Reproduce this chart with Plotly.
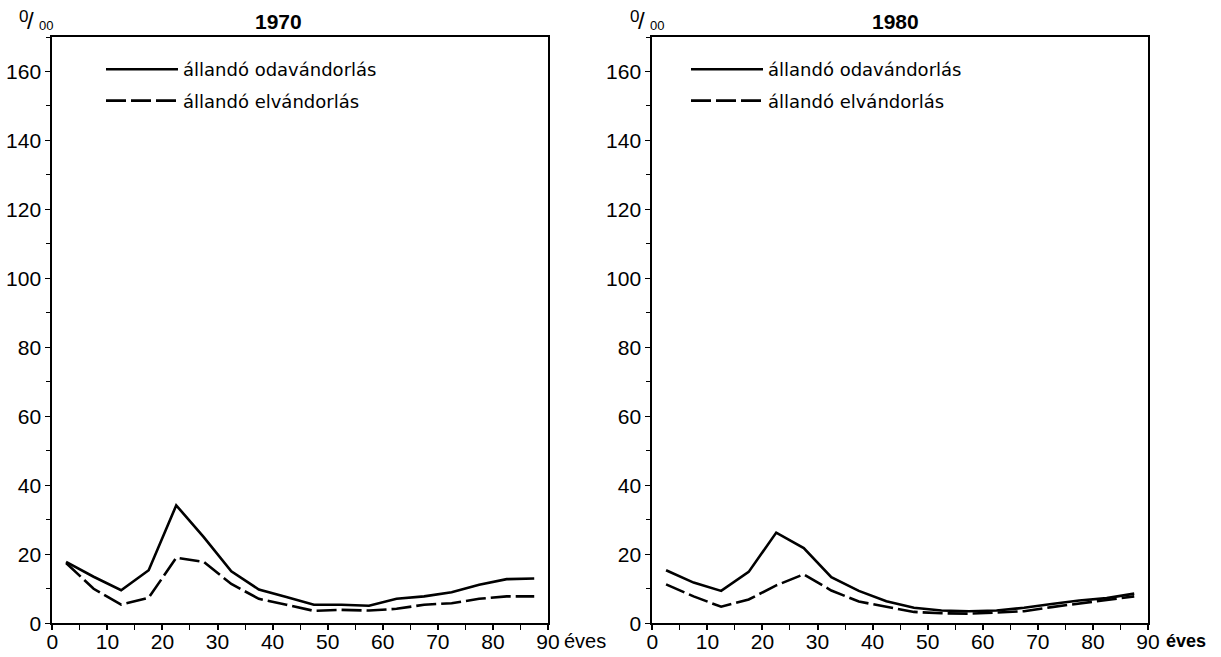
import plotly.graph_objects as go

ages = [2.5, 7.5, 12.5, 17.5, 22.5, 27.5, 32.5, 37.5, 42.5, 47.5, 52.5, 57.5, 62.5, 67.5, 72.5, 77.5, 82.5, 87.5]

oda_1970 = [17.8, 13.5, 9.6, 15.4, 34.2, 25.0, 15.1, 9.8, 7.6, 5.4, 5.4, 5.1, 7.1, 7.8, 9.0, 11.2, 12.8, 13.0]
el_1970 = [17.5, 10.0, 5.4, 7.4, 19.0, 17.8, 11.4, 7.1, 5.4, 3.6, 3.9, 3.7, 4.2, 5.4, 5.8, 7.1, 7.8, 7.8]

oda_1980 = [15.4, 11.8, 9.4, 14.9, 26.3, 21.8, 13.4, 9.4, 6.4, 4.5, 3.7, 3.5, 3.7, 4.5, 5.6, 6.6, 7.3, 8.6]
el_1980 = [11.3, 7.8, 4.8, 6.9, 11.0, 14.2, 9.5, 6.3, 4.8, 3.3, 2.9, 2.8, 3.1, 3.5, 4.7, 5.7, 6.9, 7.8]

years = ["1970", "1980"]
name_oda = "állandó odavándorlás"
name_el = "állandó elvándorlás"
x_unit = "éves"

x_ticks = [0, 10, 20, 30, 40, 50, 60, 70, 80, 90]
y_ticks = [0, 20, 40, 60, 80, 100, 120, 140, 160]

# body margin is removed by post_script, so figure sits at (0, 0)
OFF = 0
FW, FH = 1221, 657


def px(xw):
    return (xw - OFF) / FW


def py(yw):
    return 1 - (yw - OFF) / FH


FONT = "Liberation Sans, Arial, sans-serif"
LFONT = "DejaVu Sans, sans-serif"

fig = go.Figure()

LINE_W = 2.6
DASH = "20px,5px"

fig.add_trace(go.Scatter(x=ages, y=oda_1970, mode="lines", name=name_oda,
                         line=dict(color="black", width=LINE_W), xaxis="x", yaxis="y",
                         legend="legend", legendgroup="a"))
fig.add_trace(go.Scatter(x=ages, y=el_1970, mode="lines", name=name_el,
                         line=dict(color="black", width=LINE_W, dash=DASH), xaxis="x", yaxis="y",
                         legend="legend", legendgroup="b"))
fig.add_trace(go.Scatter(x=ages, y=oda_1980, mode="lines", name=name_oda,
                         line=dict(color="black", width=LINE_W), xaxis="x2", yaxis="y2",
                         legend="legend2", legendgroup="c"))
fig.add_trace(go.Scatter(x=ages, y=el_1980, mode="lines", name=name_el,
                         line=dict(color="black", width=LINE_W, dash=DASH), xaxis="x2", yaxis="y2",
                         legend="legend2", legendgroup="d"))

ydom = [py(623.3), py(37)]


def xax(dom, anchor):
    return dict(domain=dom, range=[0, 90], anchor=anchor, tickvals=x_ticks,
                ticktext=[str(v) for v in x_ticks],
                showline=True, linecolor="black", linewidth=2, mirror=True,
                ticks="outside", ticklen=5, tickwidth=1.5, tickcolor="black",
                minor=dict(dtick=5, tick0=0, ticks="outside", ticklen=5, tickwidth=1.2, tickcolor="black"),
                ticklabelstandoff=-7,
                showgrid=False, zeroline=False, automargin=False,
                tickfont=dict(family=FONT, size=21, color="black"))


def yax(anchor):
    return dict(domain=ydom, range=[0, 170], anchor=anchor, tickvals=y_ticks,
                showline=True, linecolor="black", linewidth=2, mirror=True,
                ticks="outside", ticklen=5, tickwidth=1.2, tickcolor="black",
                minor=dict(dtick=10, tick0=0, ticks="outside", ticklen=4, tickwidth=1.2, tickcolor="black"),
                showgrid=False, zeroline=False, automargin=False,
                tickfont=dict(family=FONT, size=21, color="black"))


leg_common = dict(font=dict(family=LFONT, size=18, color="black"), bgcolor="rgba(0,0,0,0)",
                  borderwidth=0, itemwidth=72, tracegroupgap=5, yanchor="top", xanchor="left",
                  itemclick=False, itemdoubleclick=False)

fig.update_layout(
    width=FW, height=FH,
    margin=dict(l=0, r=0, t=0, b=0),
    paper_bgcolor="white", plot_bgcolor="white",
    showlegend=True,
    xaxis=xax([px(52.3), px(548)], "y"),
    yaxis=yax("x"),
    xaxis2=xax([px(652.3), px(1148)], "y2"),
    yaxis2=yax("x2"),
    legend=dict(x=px(101), y=py(51), **leg_common),
    legend2=dict(x=px(686), y=py(51), **leg_common),
)


def permille(x_left):
    # superscript 0, slash, subscript 00
    return [
        dict(text="0", x=px(x_left), y=py(16), xref="paper", yref="paper", xanchor="left",
             yanchor="middle", showarrow=False, font=dict(family=FONT, size=17, color="black")),
        dict(text="/", x=px(x_left + 8), y=py(20), xref="paper", yref="paper", xanchor="left",
             yanchor="middle", showarrow=False, font=dict(family=FONT, size=24, color="black")),
        dict(text="00", x=px(x_left + 20), y=py(25), xref="paper", yref="paper", xanchor="left",
             yanchor="middle", showarrow=False, font=dict(family=FONT, size=13, color="black")),
    ]


annotations = [
    dict(text="<b>" + years[0] + "</b>", x=px(278.5), y=py(21), xref="paper", yref="paper",
         xanchor="center", yanchor="middle",
         showarrow=False, font=dict(family=FONT, size=21, color="black")),
    dict(text="<b>" + years[1] + "</b>", x=px(895), y=py(21), xref="paper", yref="paper",
         xanchor="center", yanchor="middle",
         showarrow=False, font=dict(family=FONT, size=21, color="black")),
    dict(text=x_unit, x=90, y=0, xref="x", yref="y", xanchor="left", yanchor="middle",
         xshift=14, yshift=-18, showarrow=False, font=dict(family=FONT, size=20, color="black")),
    dict(text="<b>" + x_unit + "</b>", x=90, y=0, xref="x2", yref="y2", xanchor="left", yanchor="middle",
         xshift=16, yshift=-18, showarrow=False, font=dict(family=FONT, size=18, color="black")),
]
annotations += permille(17)
annotations += permille(628)
fig.update_layout(annotations=annotations)

fig.write_html(
    "out.html",
    config={"displayModeBar": False},
    post_script="document.body.style.margin='0';document.body.style.overflow='hidden';",
)
